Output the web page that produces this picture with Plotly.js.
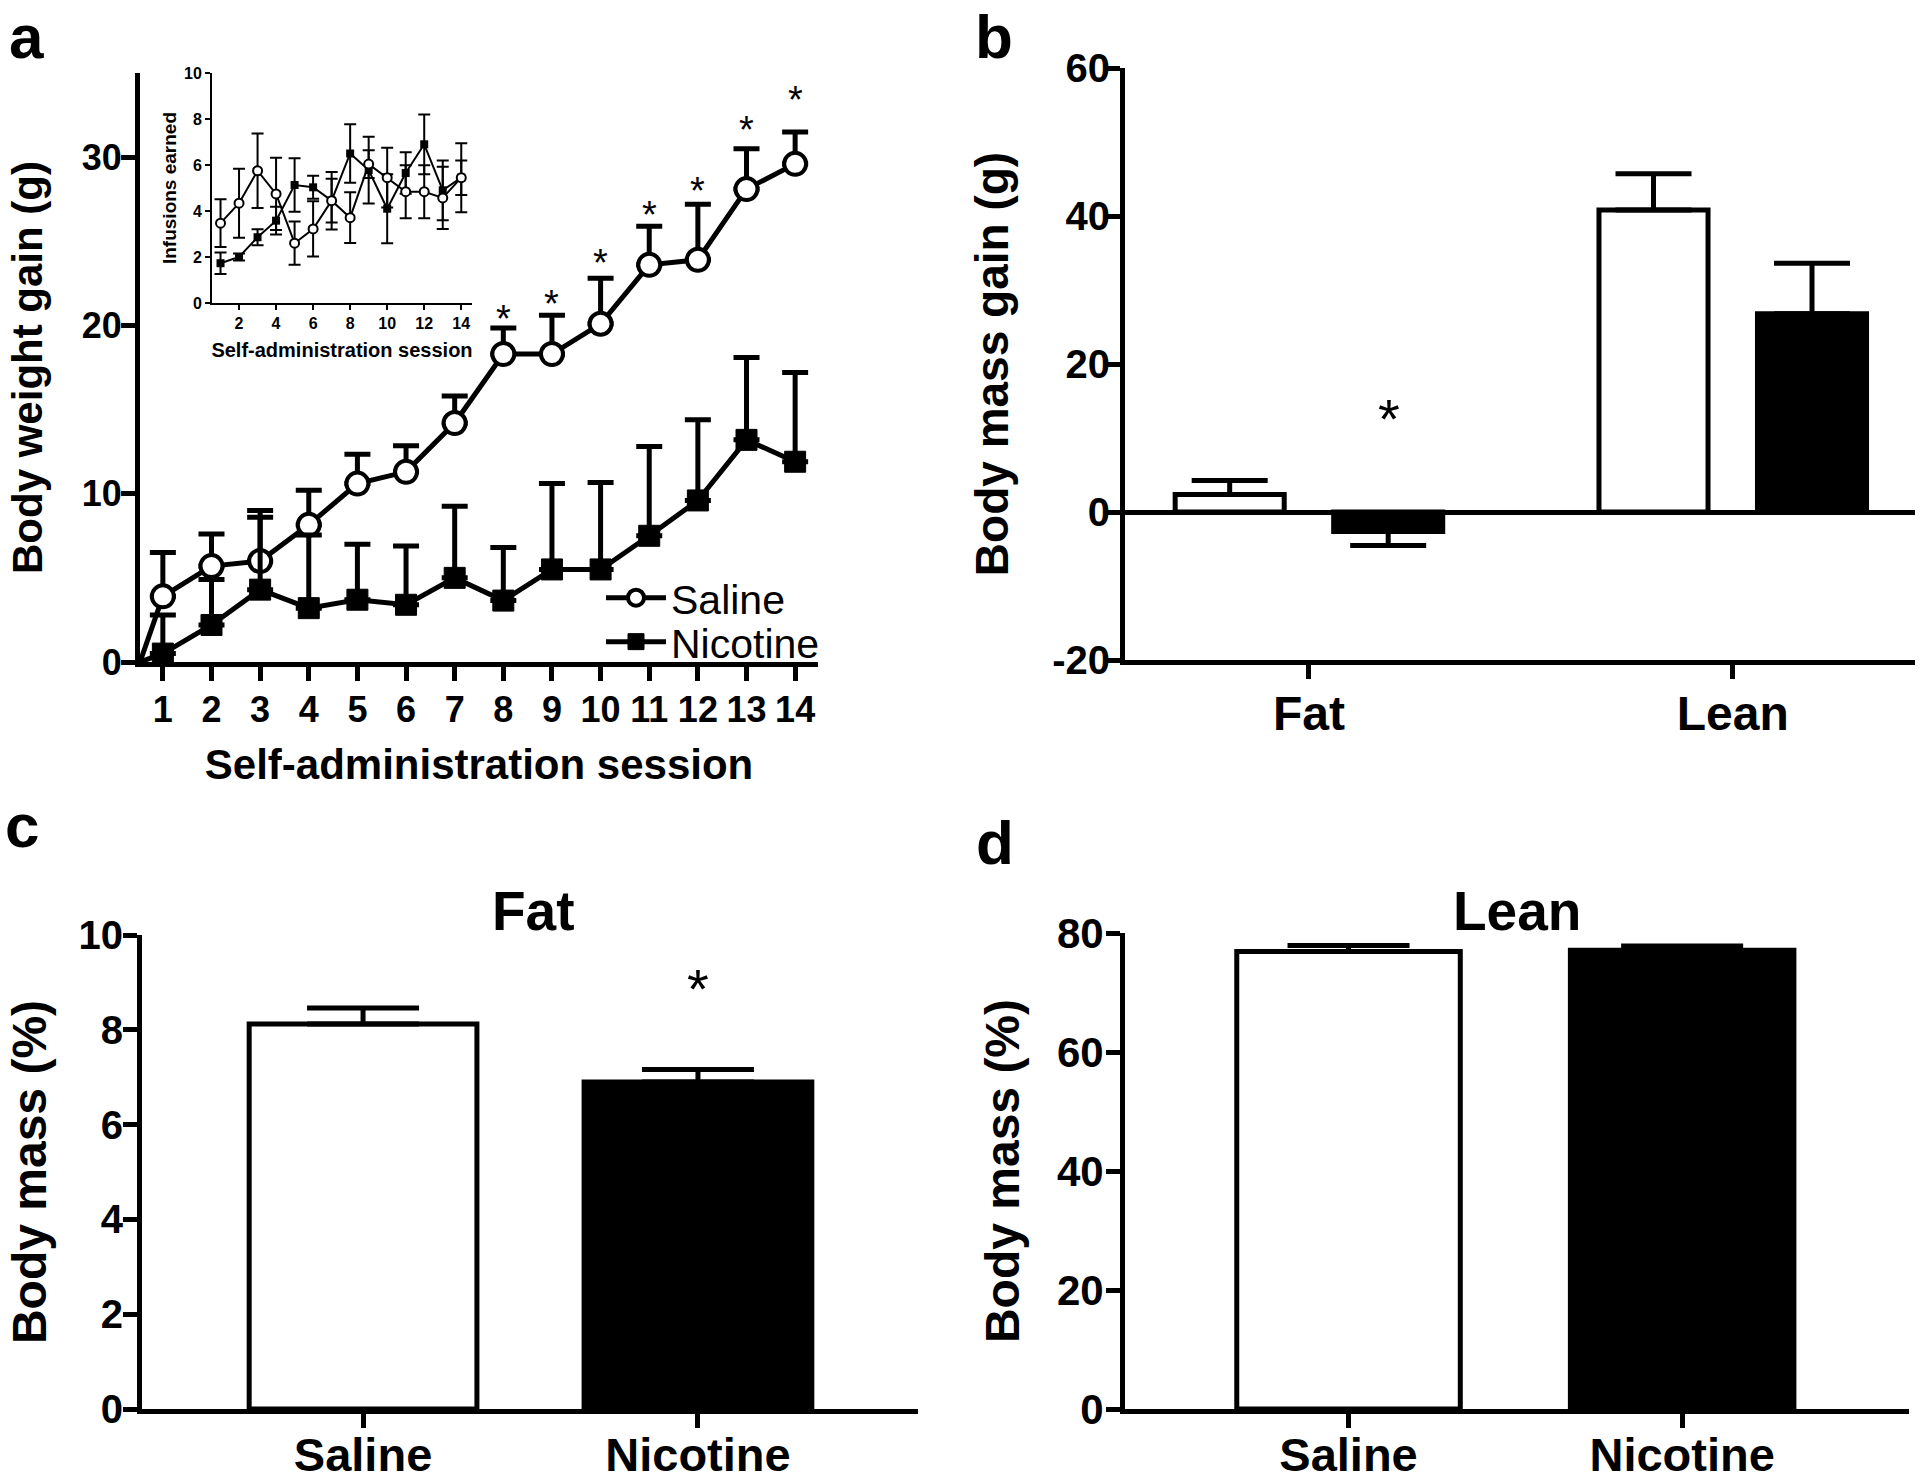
<!DOCTYPE html>
<html>
<head>
<meta charset="utf-8">
<script src="https://cdn.plot.ly/plotly-3.0.1.min.js"></script>
<style>html,body{margin:0;padding:0;background:#fff;}#chart{width:1920px;height:1481px;}</style>
</head>
<body>
<div id="chart"></div>
<script>
// ---------- DATA ----------
// Panel a: body weight gain (g) per self-administration session
const sessions = [1,2,3,4,5,6,7,8,9,10,11,12,13,14];
const salineGain = [3.9, 5.7, 6.0, 8.15, 10.6, 11.3, 14.2, 18.3, 18.3, 20.1, 23.6, 23.9, 28.1, 29.6];
const salineGainSem = [2.6, 1.9, 2.6, 2.05, 1.75, 1.55, 1.6, 1.55, 2.3, 2.7, 2.3, 3.3, 2.4, 1.9];
const nicotineGain = [0.5, 2.2, 4.3, 3.2, 3.7, 3.4, 5.0, 3.65, 5.5, 5.5, 7.5, 9.6, 13.2, 11.9];
const nicotineGainSem = [2.3, 2.7, 4.7, 4.35, 3.3, 3.5, 4.25, 3.15, 5.1, 5.17, 5.3, 4.8, 4.9, 5.3];
const baselineGain = 0;                       // gain at start of experiment (axis origin)
const starSessions = [8, 9, 10, 11, 12, 13, 14];
const starGainY = [20.8, 21.7, 24.1, 27.0, 28.4, 32.0, 33.8];
const gainTicks = [0, 10, 20, 30];

// Panel a inset: infusions earned
const salineInf = [3.47, 4.34, 5.75, 4.74, 2.6, 3.22, 4.45, 3.71, 6.04, 5.45, 4.84, 4.84, 4.57, 5.45];
const salineInfSem = [1.04, 1.5, 1.62, 1.57, 0.94, 1.2, 0.95, 1.1, 0.6, 1.3, 1.15, 1.15, 1.35, 0.75];
const nicotineInf = [1.73, 2.0, 2.86, 3.58, 5.13, 5.03, 4.45, 6.5, 5.78, 4.1, 5.65, 6.9, 4.9, 5.45];
const nicotineInfSem = [0.47, 0.15, 0.35, 0.6, 1.16, 0.5, 1.25, 1.27, 1.45, 1.5, 0.9, 1.3, 1.3, 1.5];
const insetXTicks = [2, 4, 6, 8, 10, 12, 14];
const insetYTicks = [0, 2, 4, 6, 8, 10];

// Panel b: body mass gain (g)
const tissues = ['Fat', 'Lean'];
const salineMassGain = [2.37, 40.8];
const salineMassGainErrUp = [1.9, 4.9];
const nicotineMassGain = [-2.63, 26.8];
const nicotineMassGainErrUp = [0, 6.8];
const nicotineMassGainErrDown = [1.9, 0];
const starBY = 14.0;
const massGainTicks = [-20, 0, 20, 40, 60];
const massGainTickText = ['-20', '0', '20', '40', '60'];

// Panels c & d: body mass (%)
const groups = ['Saline', 'Nicotine'];
const fatPct = [8.12, 6.9];
const fatPctSem = [0.34, 0.26];
const leanPct = [76.9, 77.1];
const leanPctSem = [1.0, 0.7];
const starCY = 9.0;
const fatTicks = [0, 2, 4, 6, 8, 10];
const leanTicks = [0, 20, 40, 60, 80];

// ---------- STYLE / LAYOUT HELPERS ----------
const FONT = 'Liberation Sans, Arial, Helvetica, sans-serif';
const W = 1920, H = 1481;
const X = px => px / W;
const Y = py => 1 - py / H;
const zeros = n => new Array(n).fill(0);
const bold = size => ({family: FONT, size: size, color: '#000', weight: 'bold'});

const axisBase = {
  showline: true, linecolor: '#000', linewidth: 5,
  ticks: 'outside', ticklen: 14, tickwidth: 5, tickcolor: '#000',
  showgrid: false, zeroline: false, fixedrange: true,
  tickfont: bold(36)
};
const inset = {
  showline: true, linecolor: '#000', linewidth: 2,
  ticks: 'outside', ticklen: 5, tickwidth: 2, tickcolor: '#000',
  showgrid: false, zeroline: false, fixedrange: true,
  tickfont: bold(16)
};
const title = (text, size, standoff) => ({text: text, font: bold(size), standoff: standoff});

const xStartA = 0.53;

// ---------- TRACES ----------
const traces = [
  // baseline segments from origin
  {x: [xStartA, sessions[0]], y: [baselineGain, salineGain[0]], mode: 'lines', line: {color: '#000', width: 5}, xaxis: 'x', yaxis: 'y', showlegend: false, hoverinfo: 'skip'},
  {x: [xStartA, sessions[0]], y: [baselineGain, nicotineGain[0]], mode: 'lines', line: {color: '#000', width: 5}, xaxis: 'x', yaxis: 'y', showlegend: false, hoverinfo: 'skip'},
  {
    name: 'Saline', legend: 'legend', x: sessions, y: salineGain, mode: 'lines+markers', xaxis: 'x', yaxis: 'y', cliponaxis: false,
    line: {color: '#000', width: 5},
    marker: {symbol: 'circle', size: 22, color: '#fff', line: {color: '#000', width: 4}},
    error_y: {type: 'data', symmetric: false, array: salineGainSem, arrayminus: zeros(14), color: '#000', thickness: 5, width: 13}
  },
  {
    name: 'Nicotine', legend: 'legend2', x: sessions, y: nicotineGain, mode: 'lines+markers', xaxis: 'x', yaxis: 'y', cliponaxis: false,
    line: {color: '#000', width: 5},
    marker: {symbol: 'square', size: 21, color: '#000', line: {color: '#000', width: 1}},
    error_y: {type: 'data', symmetric: false, array: nicotineGainSem, arrayminus: zeros(14), color: '#000', thickness: 5, width: 13}
  },
  // inset
  {
    x: sessions, y: nicotineInf, mode: 'lines+markers', xaxis: 'x2', yaxis: 'y2', showlegend: false, cliponaxis: false,
    line: {color: '#000', width: 2},
    marker: {symbol: 'square', size: 8, color: '#000'},
    error_y: {type: 'data', array: nicotineInfSem, color: '#000', thickness: 2, width: 6}
  },
  {
    x: sessions, y: salineInf, mode: 'lines+markers', xaxis: 'x2', yaxis: 'y2', showlegend: false, cliponaxis: false,
    line: {color: '#000', width: 2},
    marker: {symbol: 'circle', size: 9, color: '#fff', line: {color: '#000', width: 2}},
    error_y: {type: 'data', array: salineInfSem, color: '#000', thickness: 2, width: 6}
  },
  // panel b
  {
    type: 'bar', x: tissues, y: salineMassGain, xaxis: 'x3', yaxis: 'y3', showlegend: false, name: 'Saline',
    marker: {color: '#fff', line: {color: '#000', width: 5}},
    error_y: {type: 'data', symmetric: false, array: salineMassGainErrUp, arrayminus: zeros(2), color: '#000', thickness: 5, width: 38}
  },
  {
    type: 'bar', x: tissues, y: nicotineMassGain, xaxis: 'x3', yaxis: 'y3', showlegend: false, name: 'Nicotine',
    marker: {color: '#000', line: {color: '#000', width: 5}},
    error_y: {type: 'data', symmetric: false, array: nicotineMassGainErrUp, arrayminus: nicotineMassGainErrDown, color: '#000', thickness: 5, width: 38}
  },
  // panel c
  {
    type: 'bar', x: groups, y: fatPct, xaxis: 'x4', yaxis: 'y4', showlegend: false, width: 0.68,
    marker: {color: ['#fff', '#000'], line: {color: '#000', width: 5}},
    error_y: {type: 'data', symmetric: false, array: fatPctSem, arrayminus: zeros(2), color: '#000', thickness: 5, width: 56}
  },
  // panel d
  {
    type: 'bar', x: groups, y: leanPct, xaxis: 'x5', yaxis: 'y5', showlegend: false, width: 0.67,
    marker: {color: ['#fff', '#000'], line: {color: '#000', width: 5}},
    error_y: {type: 'data', symmetric: false, array: leanPctSem, arrayminus: zeros(2), color: '#000', thickness: 5, width: 61}
  }
];

// ---------- ANNOTATIONS ----------
const ann = [];
const letter = (t, x, y, ya) => ({text: t, xref: 'paper', yref: 'paper', x: X(x), y: Y(y), xanchor: 'center', yanchor: ya, showarrow: false, font: bold(62)});
ann.push(letter('a', 26, 0.5, 'top'), letter('b', 994, 0.5, 'top'), letter('c', 22, 825, 'middle'), letter('d', 995, 842, 'middle'));
ann.push({text: 'Fat', xref: 'paper', yref: 'paper', x: X(533), y: Y(911), xanchor: 'center', yanchor: 'middle', showarrow: false, font: bold(55)});
ann.push({text: 'Lean', xref: 'paper', yref: 'paper', x: X(1517), y: Y(911), xanchor: 'center', yanchor: 'middle', showarrow: false, font: bold(55)});
starSessions.forEach((s, i) => ann.push({text: '*', x: s, y: starGainY[i], xref: 'x', yref: 'y', xanchor: 'center', yanchor: 'middle', yshift: -7, showarrow: false, font: {family: FONT, size: 38, color: '#000'}}));
ann.push({text: '*', x: tissues.indexOf('Fat') + 0.19, y: starBY, xref: 'x3', yref: 'y3', xanchor: 'center', yanchor: 'middle', yshift: -10, showarrow: false, font: {family: FONT, size: 56, color: '#000'}});
ann.push({text: '*', x: 'Nicotine', y: starCY, xref: 'x4', yref: 'y4', xanchor: 'center', yanchor: 'middle', yshift: -6, showarrow: false, font: {family: FONT, size: 56, color: '#000'}});

// ---------- LAYOUT ----------
const legendBase = {xanchor: 'left', yanchor: 'middle', bgcolor: 'rgba(0,0,0,0)', itemwidth: 60,
                    font: {family: FONT, size: 41, color: '#000'}};
const layout = {
  width: W, height: H,
  margin: {l: 0, r: 0, t: 0, b: 0},
  paper_bgcolor: '#fff', plot_bgcolor: 'rgba(0,0,0,0)',
  font: {family: FONT, color: '#000'},
  barmode: 'group', bargap: 0.252, bargroupgap: 0.312,
  showlegend: true,
  legend: Object.assign({}, legendBase, {x: X(601), y: Y(598)}),
  legend2: Object.assign({}, legendBase, {x: X(601), y: Y(642)}),
  xaxis: Object.assign({}, axisBase, {domain: [X(140), X(818)], range: [xStartA, 14.47], anchor: 'y', tickvals: sessions,
         ticklabelstandoff: -2, title: title('Self-administration session', 42, 22)}),
  yaxis: Object.assign({}, axisBase, {domain: [Y(662), Y(73)], range: [0, 35], anchor: 'x', tickvals: gainTicks,
         ticklabelstandoff: -8, title: title('Body weight gain (g)', 42, 28)}),
  xaxis2: Object.assign({}, inset, {domain: [X(212), X(472)], range: [0.54, 14.58], anchor: 'y2', tickvals: insetXTicks,
         title: title('Self-administration session', 20, 12)}),
  yaxis2: Object.assign({}, inset, {domain: [Y(303), Y(73)], range: [0, 10], anchor: 'x2', tickvals: insetYTicks,
         title: title('Infusions earned', 19, 2)}),
  xaxis3: Object.assign({}, axisBase, {domain: [X(1125), X(1915)], type: 'category', range: [-0.434, 1.43], anchor: 'y3',
         ticklabelstandoff: -7, tickfont: bold(48)}),
  yaxis3: Object.assign({}, axisBase, {domain: [Y(660), Y(68)], range: [-20, 60], anchor: 'x3',
         tickvals: massGainTicks, ticktext: massGainTickText,
         zeroline: true, zerolinecolor: '#000', zerolinewidth: 5,
         ticklabelstandoff: -12, tickfont: bold(40),
         title: title('Body mass gain (g)', 46, 31)}),
  xaxis4: Object.assign({}, axisBase, {domain: [X(142), X(918)], type: 'category', range: [-0.66, 1.657], anchor: 'y4',
         ticklabelstandoff: -13, tickfont: bold(47)}),
  yaxis4: Object.assign({}, axisBase, {domain: [Y(1409), Y(935)], range: [0, 10], anchor: 'x4', tickvals: fatTicks,
         ticklabelstandoff: -8, tickfont: bold(40),
         title: title('Body mass (%)', 48, 18)}),
  xaxis5: Object.assign({}, axisBase, {domain: [X(1125), X(1909)], type: 'category', range: [-0.67, 1.68], anchor: 'y5',
         ticklabelstandoff: -13, tickfont: bold(47)}),
  yaxis5: Object.assign({}, axisBase, {domain: [Y(1409), Y(933)], range: [0, 80], anchor: 'x5', tickvals: leanTicks,
         ticklabelstandoff: -6, tickfont: bold(42),
         title: title('Body mass (%)', 48, 24)}),
  annotations: ann
};

Plotly.newPlot('chart', traces, layout, {staticPlot: true, displayModeBar: false});
</script>
</body>
</html>
